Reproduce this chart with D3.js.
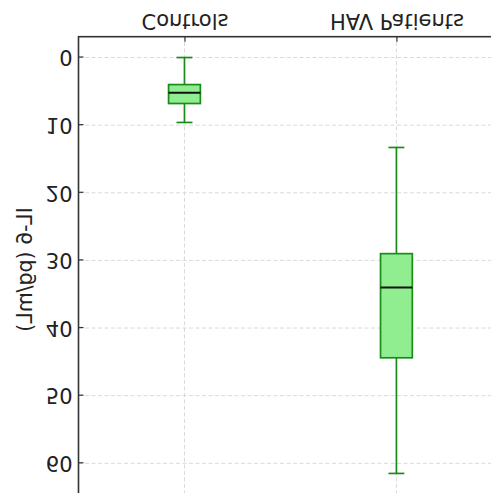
<!DOCTYPE html>
<html>
<head>
<meta charset="utf-8">
<script src="https://cdn.jsdelivr.net/npm/d3@7"></script>
<style>
  body { margin: 0; background: #fff; }
  text { font-family: "DejaVu Sans", sans-serif; }
</style>
</head>
<body>
<div id="viz"></div>
<script>
// chart data
var categories = ["Controls", "HAV Patients"];
var whiskerLow = [0, 13.3];
var q1 = [4.0, 29.0];
var median = [5.2, 34.0];
var q3 = [6.8, 44.4];
var whiskerHigh = [9.6, 61.5];
var yTicks = [0, 10, 20, 30, 40, 50, 60];

var width = 491;
var height = 493;

// frame of the axes (drawn the normal way, then the whole picture is flipped)
var plotLeft = 78.5, plotRight = 502.4, plotTop = -1.4, plotBottom = 456.3;

var x = d3.scaleLinear().domain([0.5, 2.5]).range([plotLeft, plotRight]);
var y = d3.scaleLinear().domain([-3.08, 64.6]).range([plotBottom, plotTop]);

var boxWidth = 0.15;
var capWidth = boxWidth / 2;

var svg = d3.select("#viz")
  .append("svg")
  .attr("width", width)
  .attr("height", height);

// the reference is mirrored top-to-bottom
var chart = svg.append("g")
  .attr("transform", "translate(0," + height + ") scale(1,-1)");

// grid
var grid = chart.append("g")
  .attr("stroke", "#cfcfcf")
  .attr("stroke-width", 0.8)
  .attr("stroke-dasharray", "4,2.5");

grid.selectAll("line.h")
  .data(yTicks)
  .enter()
  .append("line")
  .attr("class", "h")
  .attr("x1", plotLeft)
  .attr("x2", plotRight)
  .attr("y1", function(d) { return y(d); })
  .attr("y2", function(d) { return y(d); });

grid.selectAll("line.v")
  .data(categories)
  .enter()
  .append("line")
  .attr("class", "v")
  .attr("x1", function(d, i) { return x(i + 1); })
  .attr("x2", function(d, i) { return x(i + 1); })
  .attr("y1", plotTop)
  .attr("y2", plotBottom);

// boxes
var boxes = chart.selectAll("g.box")
  .data(categories)
  .enter()
  .append("g")
  .attr("class", "box");

boxes.append("line")
  .attr("x1", function(d, i) { return x(i + 1); })
  .attr("x2", function(d, i) { return x(i + 1); })
  .attr("y1", function(d, i) { return y(whiskerLow[i]); })
  .attr("y2", function(d, i) { return y(q1[i]); })
  .attr("stroke", "#1a8c1a")
  .attr("stroke-width", 1.7);

boxes.append("line")
  .attr("x1", function(d, i) { return x(i + 1); })
  .attr("x2", function(d, i) { return x(i + 1); })
  .attr("y1", function(d, i) { return y(q3[i]); })
  .attr("y2", function(d, i) { return y(whiskerHigh[i]); })
  .attr("stroke", "#1a8c1a")
  .attr("stroke-width", 1.7);

boxes.append("line")
  .attr("x1", function(d, i) { return x(i + 1 - capWidth / 2); })
  .attr("x2", function(d, i) { return x(i + 1 + capWidth / 2); })
  .attr("y1", function(d, i) { return y(whiskerLow[i]); })
  .attr("y2", function(d, i) { return y(whiskerLow[i]); })
  .attr("stroke", "#1a8c1a")
  .attr("stroke-width", 1.7);

boxes.append("line")
  .attr("x1", function(d, i) { return x(i + 1 - capWidth / 2); })
  .attr("x2", function(d, i) { return x(i + 1 + capWidth / 2); })
  .attr("y1", function(d, i) { return y(whiskerHigh[i]); })
  .attr("y2", function(d, i) { return y(whiskerHigh[i]); })
  .attr("stroke", "#1a8c1a")
  .attr("stroke-width", 1.7);

boxes.append("rect")
  .attr("x", function(d, i) { return x(i + 1 - boxWidth / 2); })
  .attr("width", function(d, i) { return x(i + 1 + boxWidth / 2) - x(i + 1 - boxWidth / 2); })
  .attr("y", function(d, i) { return y(q3[i]); })
  .attr("height", function(d, i) { return y(q1[i]) - y(q3[i]); })
  .attr("fill", "#90ee90")
  .attr("stroke", "#1a8c1a")
  .attr("stroke-width", 1.7);

boxes.append("line")
  .attr("x1", function(d, i) { return x(i + 1 - boxWidth / 2); })
  .attr("x2", function(d, i) { return x(i + 1 + boxWidth / 2); })
  .attr("y1", function(d, i) { return y(median[i]); })
  .attr("y2", function(d, i) { return y(median[i]); })
  .attr("stroke", "#111")
  .attr("stroke-width", 2);

// axes, ticks pointing inward
var yAxis = chart.append("g")
  .attr("transform", "translate(" + plotLeft + ",0)")
  .call(d3.axisLeft(y).tickValues(yTicks).tickSizeInner(-5).tickSizeOuter(0).tickPadding(6));

var xAxis = chart.append("g")
  .attr("transform", "translate(0," + plotBottom + ")")
  .call(d3.axisBottom(x).tickValues([1, 2]).tickFormat(function(d) { return categories[d - 1]; })
    .tickSizeInner(-5).tickSizeOuter(0).tickPadding(8));

[yAxis, xAxis].forEach(function(a) {
  a.select(".domain").remove();
  a.selectAll(".tick line").attr("stroke", "#333").attr("stroke-width", 1.2);
  a.selectAll(".tick text")
    .attr("fill", "#222")
    .attr("font-family", "DejaVu Sans")
    .attr("font-size", "21px");
});

// spines
chart.append("rect")
  .attr("x", plotLeft)
  .attr("y", plotTop)
  .attr("width", plotRight - plotLeft)
  .attr("height", plotBottom - plotTop)
  .attr("fill", "none")
  .attr("stroke", "#333")
  .attr("stroke-width", 1.6);

chart.append("text")
  .text("IL-6 (pg/mL)")
  .attr("transform", "translate(32," + ((plotTop + plotBottom) / 2 - 4) + ") rotate(-90)")
  .attr("text-anchor", "middle")
  .attr("fill", "#222")
  .attr("font-size", "20.5px");
</script>
</body>
</html>
